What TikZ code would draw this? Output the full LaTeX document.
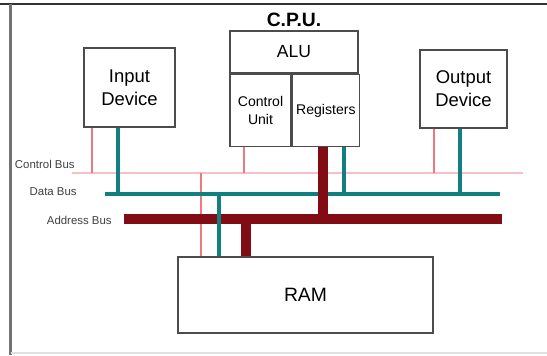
\documentclass[tikz,border=0pt]{standalone}
\usepackage{fontspec}
\setmainfont{Liberation Sans}
\usepackage{tikz}
\usetikzlibrary{positioning}
\usetikzlibrary{calc}

\definecolor{databus}{RGB}{18,128,128}
\definecolor{addrbus}{RGB}{130,12,20}
\definecolor{ctrltap}{RGB}{238,120,125}
\definecolor{ctrlline}{RGB}{248,192,196}

\tikzset{
    unit/.style={draw=black!70, line width=0.8pt, inner sep=1pt, align=center},
    buslabel/.style={font=\fontsize{6.5}{7}\selectfont, text=black!75, inner sep=0pt},
    ctrl/.style={draw=ctrltap, line width=0.6pt},
    data/.style={draw=databus, line width=2.8pt},
    addr/.style={draw=addrbus, line width=6.2pt},
}

\begin{document}
\begin{tikzpicture}[x=0.02cm, y=-0.02cm]
    \useasboundingbox (0,0) rectangle (547,355);
    \fill[white] (0,0) rectangle (547,355);

    % frame
    \draw[black!80, line width=1.6pt] (0,4) -- (547,4);
    \draw[black!55, line width=1.6pt] (10.5,4) -- (10.5,355);
    \draw[black!12, line width=1pt] (10.5,353) -- (547,353);

    % units
    \node[unit, minimum width=1.82cm, minimum height=1.58cm, font=\fontsize{10.5}{13}\selectfont] (inp) at (129.5,87.5) {Input\\Device};
    \node[unit, minimum width=1.74cm, minimum height=1.56cm, font=\fontsize{10.5}{13}\selectfont] (outp) at (463.5,89) {Output\\Device};

    % cpu
    \node[unit, minimum width=2.56cm, minimum height=0.84cm, font=\fontsize{10}{12}\selectfont] (alu) at (294,52) {ALU};
    \node[unit, minimum width=1.22cm, minimum height=1.44cm, anchor=north west, font=\fontsize{8}{10}\selectfont] (cu) at (alu.south west) {Control\\Unit};
    \node[unit, minimum width=1.34cm, minimum height=1.44cm, anchor=north west, font=\fontsize{8}{10}\selectfont] (reg) at (cu.north east) {Registers};
    \node[above=1pt of alu, inner sep=1pt, font=\fontsize{11}{13}\selectfont\bfseries] (cpulbl) {C.P.U.};

    \node[unit, minimum width=5.1cm, minimum height=1.52cm, font=\fontsize{11}{13}\selectfont] (ram) at (305.5,295) {RAM};

    % bus ends
    \coordinate (cbL) at (72,173);
    \coordinate (cbR) at (523,173);
    \coordinate (dbL) at (105,194);
    \coordinate (dbR) at (500,194);
    \coordinate (abL) at (124,219);
    \coordinate (abR) at (502,219);

    % taps
    \coordinate (cIn) at (92,173);
    \coordinate (cCpu) at (244,173);
    \coordinate (cOut) at (434,173);
    \coordinate (cRam) at (201,173);
    \coordinate (dIn) at (118,194);
    \coordinate (dCpu) at (344,194);
    \coordinate (dOut) at (460,194);
    \coordinate (dRam) at (219,194);
    \coordinate (aCpu) at (323,219);
    \coordinate (aRam) at (246,219);

    % bus names
    \node[buslabel, anchor=east] (cblbl) at (75,164) {Control Bus};
    \node[buslabel, anchor=east] (dblbl) at (77,192) {Data Bus};
    \node[buslabel, anchor=east] (ablbl) at (112,220) {Address Bus};

    % control bus
    \draw[draw=ctrlline, line width=1.1pt] (cbL) -- (cbR);
    \draw[ctrl] (inp.south -| cIn) -- (cIn);
    \draw[ctrl] (cu.south -| cCpu) -- (cCpu);
    \draw[ctrl] (outp.south -| cOut) -- (cOut);
    \draw[ctrl] (cRam) -- (ram.north -| cRam);

    % data bus
    \draw[data] (dbL) -- (dbR);
    \draw[data] (inp.south -| dIn) -- (dIn);
    \draw[data] (reg.south -| dCpu) -- (dCpu);
    \draw[data] (outp.south -| dOut) -- (dOut);

    % address bus
    \draw[addr] (abL) -- (abR);
    \draw[addr] (reg.south -| aCpu) -- (aCpu);
    \draw[addr, line width=5.8pt] (aRam) -- (ram.north -| aRam);
    \draw[data] (dRam) -- (ram.north -| dRam);
\end{tikzpicture}
\end{document}
